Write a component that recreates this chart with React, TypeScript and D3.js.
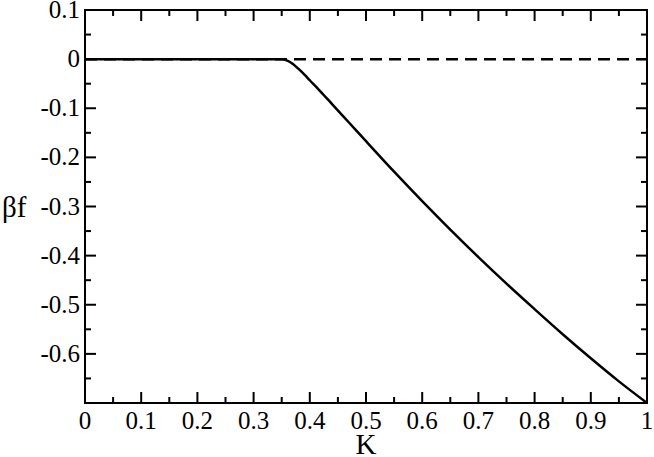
import React from 'react'
import * as d3 from 'd3'

const width = 654
const height = 457
const margin = { top: 10, right: 7, bottom: 54, left: 85 }

// K values and free energy (beta f)
const kValues = [0, 0.1, 0.2, 0.3, 0.35, 0.36, 0.37, 0.38, 0.39, 0.4, 0.42, 0.44, 0.46, 0.48, 0.5, 0.55, 0.6, 0.65, 0.7, 0.75, 0.8, 0.85, 0.9, 0.95, 1]
const betaF = [0, 0, 0, 0, 0, -0.003, -0.01, -0.02, -0.031, -0.043, -0.067, -0.092, -0.117, -0.142, -0.167, -0.229, -0.289, -0.347, -0.403, -0.457, -0.509, -0.56, -0.609, -0.656, -0.7]

// dashed reference line at zero
const zeroK = [0, 1]
const zeroF = [0, 0]

const xMajor = [0, 0.1, 0.2, 0.3, 0.4, 0.5, 0.6, 0.7, 0.8, 0.9, 1]
const xMinor = [0.05, 0.15, 0.25, 0.35, 0.45, 0.55, 0.65, 0.75, 0.85, 0.95]
const yMajor = [0.1, 0, -0.1, -0.2, -0.3, -0.4, -0.5, -0.6, -0.7]
const yMinor = [0.05, -0.05, -0.15, -0.25, -0.35, -0.45, -0.55, -0.65]
const yLabels = ['0.1', '0', '-0.1', '-0.2', '-0.3', '-0.4', '-0.5', '-0.6', '']
const xLabels = ['0', '0.1', '0.2', '0.3', '0.4', '0.5', '0.6', '0.7', '0.8', '0.9', '1']

const font = "'Liberation Serif', 'Times New Roman', Times, serif"

export default function App() {
    const x = d3.scaleLinear().domain([0, 1]).range([margin.left, width - margin.right])
    const y = d3.scaleLinear().domain([-0.7, 0.1]).range([height - margin.bottom, margin.top])

    const line = d3
        .line<number>()
        .x((d, i) => x(kValues[i]))
        .y((d) => y(d))
        .curve(d3.curveMonotoneX)

    const zeroLine = d3
        .line<number>()
        .x((d, i) => x(zeroK[i]))
        .y((d) => y(d))

    const x0 = x(0)
    const x1 = x(1)
    const y0 = y(-0.7)
    const y1 = y(0.1)
    const major = 11
    const minor = 6

    return (
        <svg width={width} height={height} style={{ position: 'absolute', left: 0, top: 0 }}>
            <rect width={width} height={height} fill="#fff" />
            <path d={zeroLine(zeroF) || ''} fill="none" stroke="#000" strokeWidth={2.5} strokeDasharray="12,7" />
            <path d={line(betaF) || ''} fill="none" stroke="#000" strokeWidth={2.5} />

            <g stroke="#000" strokeWidth={2}>
                {xMajor.map((d) => (
                    <g key={'xM' + d}>
                        <line x1={x(d)} x2={x(d)} y1={y0} y2={y0 - major} />
                        <line x1={x(d)} x2={x(d)} y1={y1} y2={y1 + major} />
                    </g>
                ))}
                {xMinor.map((d) => (
                    <g key={'xm' + d}>
                        <line x1={x(d)} x2={x(d)} y1={y0} y2={y0 - minor} />
                        <line x1={x(d)} x2={x(d)} y1={y1} y2={y1 + minor} />
                    </g>
                ))}
                {yMajor.map((d) => (
                    <g key={'yM' + d}>
                        <line x1={x0} x2={x0 + major} y1={y(d)} y2={y(d)} />
                        <line x1={x1} x2={x1 - major} y1={y(d)} y2={y(d)} />
                    </g>
                ))}
                {yMinor.map((d) => (
                    <g key={'ym' + d}>
                        <line x1={x0} x2={x0 + minor} y1={y(d)} y2={y(d)} />
                        <line x1={x1} x2={x1 - minor} y1={y(d)} y2={y(d)} />
                    </g>
                ))}
                <rect x={x0} y={y1} width={x1 - x0} height={y0 - y1} fill="none" />
            </g>

            <g style={{ fontFamily: font, fontSize: 25 }} fill="#000">
                {xMajor.map((d, i) => (
                    <text key={'xl' + d} x={x(d)} y={y0 + 26} textAnchor="middle">
                        {xLabels[i]}
                    </text>
                ))}
                {yMajor.map((d, i) => (
                    <text key={'yl' + d} x={x0 - 5} y={y(d) + 8} textAnchor="end">
                        {yLabels[i]}
                    </text>
                ))}
            </g>
            <text x={(x0 + x1) / 2} y={height - 3} textAnchor="middle" style={{ fontFamily: font, fontSize: 29 }}>
                K
            </text>
            <text x={2} y={y(-0.3) + 10} style={{ fontFamily: font, fontSize: 29 }}>
                βf
            </text>
        </svg>
    )
}
